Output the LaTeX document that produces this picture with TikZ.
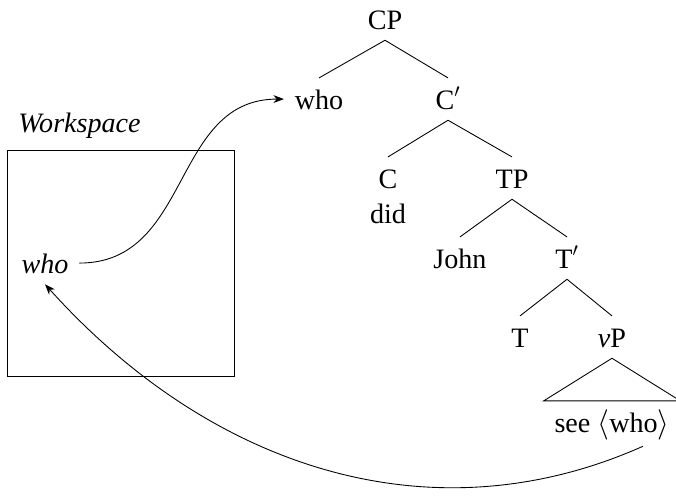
\documentclass[tikz,border=0pt]{standalone}
\usepackage{fontspec}
\setmainfont{Liberation Serif}
\usetikzlibrary{arrows.meta}
\begin{document}
\begin{tikzpicture}[x=0.02cm,y=0.02cm,font=\fontsize{16}{19}\selectfont,
    tree/.style={anchor=base,inner xsep=6pt,inner ysep=0pt,text height=17.5pt,text depth=6.2pt},
    move/.style={line width=0.5pt,-{Stealth[length=6pt,width=4.5pt]}}]
                \useasboundingbox (0,0) rectangle (676,-495);
                {
                
                % Marking node CP
                \node [tree] (cp) at (385,-29) {CP};%
                
                % Marking node who
                \node [tree] (who) at (319,-109) {who};%
                
                % Marking node C'
                \node [tree] (cbar) at (448,-109) {C$'$};%
                
                % Marking node C and did
                \node [tree] (c) at (388,-188) {C};%
                \node [tree] (did) at (388,-223) {did};%
                
                % Marking node TP
                \node [tree] (tp) at (512,-188) {TP};%
                
                % Marking node John
                \node [tree] (john) at (460,-268) {John};%
                
                % Marking node T'
                \node [tree] (tbar) at (567,-268) {T$'$};%
                
                % Marking node T
                \node [tree] (t) at (520,-347) {T};%
                
                % Marking node vP
                \node [tree] (vp) at (612,-347) {{\itshape ν}P};%
                
                % Marking node see <who>
                \node [tree] (seewho) at (612,-432) {see $\langle$who$\rangle$};%
                
                % Drawing branches
                \draw [line width=0.5pt] (cp.south) -- (who.north);%
                \draw [line width=0.5pt] (cp.south) -- (cbar.north);%
                \draw [line width=0.5pt] (cbar.south) -- (c.north);%
                \draw [line width=0.5pt] (cbar.south) -- (tp.north);%
                \draw [line width=0.5pt] (tp.south) -- (john.north);%
                \draw [line width=0.5pt] (tp.south) -- (tbar.north);%
                \draw [line width=0.5pt] (tbar.south) -- (t.north);%
                \draw [line width=0.5pt] (tbar.south) -- (vp.north);%
                
                % Drawing triangle over see <who>
                \draw [line width=0.5pt] (vp.south) -- (seewho.north west) -- (seewho.north east) -- cycle;%
                
                % Drawing workspace box
                \draw [line width=0.5pt] (7,-150) rectangle (234,-376);%
                \node [anchor=base west,inner sep=0pt] (wslabel) at (18,-132) {\itshape Workspace};%
                \node [tree] (wswho) at (45,-273) {\itshape who};%
                
                % Drawing movement arrows
                \draw [move] ([shift={(31,-3)}]seewho.south) .. controls +(204:230) and +(-48:250) .. (wswho.south);%
                \draw [move] (wswho.east) to [out=0,in=180,looseness=1.1] (who.west);%
                }
            \end{tikzpicture}
\end{document}
